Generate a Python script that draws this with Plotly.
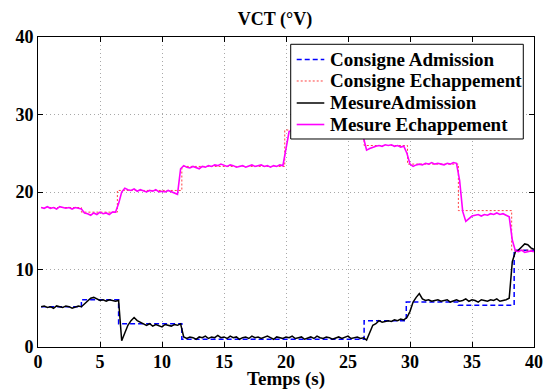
import numpy as np
import plotly.graph_objects as go

# Measured series on a 0.25 s grid, t = 0.25 .. 40.0 (8 values = 2 s per row)
dt = 0.25
mesure_admission = [
    5.2, 5.3, 5.1, 5.2, 5.0, 5.3, 5.2, 5.1,
    5.3, 5.2, 5.0, 5.2, 5.3, 5.2, 5.6, 6.0,
    6.3, 6.4, 6.2, 6.0, 6.1, 5.9, 6.1, 6.0,
    5.9, 6.0, 0.8, 1.8, 2.8, 3.4, 3.8, 3.4,
    3.2, 3.0, 2.8, 3.0, 2.7, 2.9, 2.8, 2.6,
    2.9, 2.8, 2.7, 2.9, 2.8, 3.0, 1.3, 1.1,
    1.3, 1.2, 1.0, 1.3, 1.2, 1.4, 1.1, 1.3,
    1.2, 1.5, 1.2, 1.3, 1.1, 1.4, 1.2, 1.3,
    1.0, 1.2, 1.3, 1.1, 1.4, 1.2, 1.3, 1.1,
    1.2, 1.4, 1.2, 1.0, 1.3, 1.2, 1.1, 1.3,
    1.2, 1.4, 1.1, 1.2, 1.3, 1.0, 1.2, 1.3,
    1.1, 1.4, 1.2, 1.1, 1.3, 1.2, 1.0, 1.2,
    1.3, 1.1, 1.2, 1.4, 1.1, 1.2, 1.3, 1.1,
    1.2, 0.9, 1.8, 2.8, 3.0, 3.4, 3.2, 3.3,
    3.4, 3.3, 3.5, 3.4, 3.6, 3.5, 3.8, 4.6,
    5.8, 6.4, 6.9, 6.2, 6.0, 6.1, 5.9, 6.0,
    6.1, 5.9, 6.0, 6.1, 5.8, 6.0, 6.1, 5.9,
    6.0, 6.2, 5.9, 6.1, 6.0, 5.8, 6.1, 6.0,
    5.9, 6.1, 6.0, 6.2, 5.9, 6.0, 6.1, 6.3,
    11.0, 12.3, 12.5, 12.9, 13.3, 13.2, 12.8, 12.6,
]
mesure_echappement = [
    18.0, 17.9, 18.1, 17.9, 18.0, 17.8, 18.1, 18.0,
    17.9, 18.0, 17.8, 18.0, 17.9, 17.8, 17.3, 17.2,
    17.0, 17.3, 17.1, 17.4, 17.2, 17.3, 17.1, 17.4,
    17.4, 18.5, 20.0, 20.5, 20.3, 20.2, 20.4, 20.1,
    20.3, 20.2, 20.0, 20.2, 20.1, 20.3, 20.0, 20.1,
    20.0, 20.2, 20.0, 19.8, 19.7, 23.0, 23.4, 23.2,
    23.1, 23.3, 23.2, 23.0, 23.3, 23.2, 23.4, 23.3,
    23.5, 23.4, 23.6, 23.4, 23.3, 23.5, 23.4, 23.2,
    23.3, 23.4, 23.2, 23.3, 23.5, 23.3, 23.4, 23.5,
    23.3, 23.4, 23.2, 23.4, 23.3, 23.5, 23.4, 25.5,
    27.8, 28.0, 27.9, 28.1, 28.0, 27.9, 28.2, 28.0,
    28.1, 27.9, 28.0, 28.2, 28.0, 27.9, 28.1, 28.0,
    27.9, 28.1, 28.0, 27.8, 28.0, 28.1, 27.9, 28.0,
    27.0, 25.4, 25.6, 25.8, 25.9, 26.0, 25.9, 26.1,
    26.0, 26.1, 25.9, 26.0, 25.8, 25.9, 25.0, 23.6,
    23.3, 23.5, 23.6, 23.5, 23.7, 23.6, 23.8, 23.6,
    23.7, 23.6, 23.5, 23.7, 23.6, 23.8, 23.7, 21.5,
    17.5, 16.2, 16.6, 16.9, 17.0, 17.1, 16.9, 17.1,
    17.0, 17.2, 17.1, 17.3, 17.1, 17.2, 17.0, 16.8,
    13.8, 12.4, 12.3, 12.5, 12.2, 12.3, 12.4, 12.3,
]
temps_mesure = [dt * (i + 1) for i in range(len(mesure_admission))]

# Set-point (step) series
t_cons_adm = [0.25, 3.5, 6.5, 11.6, 26.3, 29.7, 33.9, 38.1, 38.4, 40.0]
v_cons_adm = [5.2, 6.1, 3.0, 1.0, 3.4, 5.8, 5.4, 5.4, 12.5, 12.5]
t_cons_ech = [0.25, 3.5, 6.4, 11.6, 19.9, 26.3, 29.8, 33.9, 38.2, 40.0]
v_cons_ech = [18.0, 17.4, 20.2, 23.3, 28.0, 26.0, 23.6, 17.6, 12.5, 12.5]

x_ticks = [0, 5, 10, 15, 20, 25, 30, 35, 40]
y_ticks = [0, 10, 20, 30, 40]

series_names = ["Consigne Admission", "Consigne Echappement", "MesureAdmission", "Mesure Echappement"]
series_lines = [
    dict(color="#0000ff", width=1.5, dash="5px,3px"),
    dict(color="#ff4040", width=1, dash="2px,2px"),
    dict(color="#000000", width=1.5),
    dict(color="#ff00ff", width=1.6),
]

FONT = "Liberation Serif, Times New Roman, serif"

fig = go.Figure()
fig.add_trace(go.Scatter(x=t_cons_adm, y=v_cons_adm, mode="lines", line_shape="hv",
                         name=series_names[0], line=series_lines[0], showlegend=False))
fig.add_trace(go.Scatter(x=t_cons_ech, y=v_cons_ech, mode="lines", line_shape="hv",
                         name=series_names[1], line=series_lines[1], showlegend=False))
fig.add_trace(go.Scatter(x=temps_mesure, y=mesure_admission, mode="lines",
                         name=series_names[2], line=series_lines[2], showlegend=False))
fig.add_trace(go.Scatter(x=temps_mesure, y=mesure_echappement, mode="lines",
                         name=series_names[3], line=series_lines[3], showlegend=False))

axis_common = dict(
    showline=True, linecolor="black", linewidth=1, mirror="allticks",
    ticks="inside", ticklen=5, tickcolor="black",
    showgrid=True, gridcolor="#a8a8a8", griddash="1px,3px", gridwidth=1,
    zeroline=False, automargin=False,
    tickfont=dict(family=FONT, size=18, color="black"),
)

fig.update_layout(
    width=543, height=390,
    margin=dict(l=38, r=9, t=37, b=43),
    font=dict(family=FONT, color="black"),
    paper_bgcolor="white", plot_bgcolor="white",
    title=dict(text="<b>VCT (°V)</b>", x=0.5064, xanchor="center", y=0.953, yanchor="middle",
               font=dict(family=FONT, size=18, color="black")),
    xaxis=dict(range=[0, 40], tickvals=x_ticks,
               ticktext=[f"<b>{v}</b>" for v in x_ticks], ticklabelstandoff=-2,
               title=dict(text="<b>Temps (s)</b>", standoff=0,
                          font=dict(family=FONT, size=19, color="black")),
               **axis_common),
    yaxis=dict(range=[0, 40], tickvals=y_ticks,
               ticktext=[f"<b>{v}</b>" for v in y_ticks], ticklabelstandoff=0,
               **axis_common),
    showlegend=False,
)

# Hand-built legend box (MATLAB style), in paper coordinates
box_x0, box_x1, box_y0, box_y1 = 0.5095, 0.9784, 0.671, 0.9765
row_y = [0.9274, 0.8581, 0.7871, 0.7177]
fig.add_shape(type="rect", xref="paper", yref="paper", x0=box_x0, x1=box_x1, y0=box_y0, y1=box_y1,
              fillcolor="white", line=dict(color="black", width=1), layer="above")
for name, ln, yy in zip(series_names, series_lines, row_y):
    fig.add_shape(type="line", xref="paper", yref="paper", x0=0.5216, x1=0.5772, y0=yy, y1=yy,
                  line=ln, layer="above")
    fig.add_annotation(xref="paper", yref="paper", x=0.5853, y=yy, xanchor="left", yanchor="middle",
                       text=f"<b>{name}</b>", showarrow=False,
                       font=dict(family=FONT, size=19, color="black"))

fig.write_html("out.html", config={"displayModeBar": False},
               post_script="document.body.style.margin='0px';document.body.style.padding='0px';")
